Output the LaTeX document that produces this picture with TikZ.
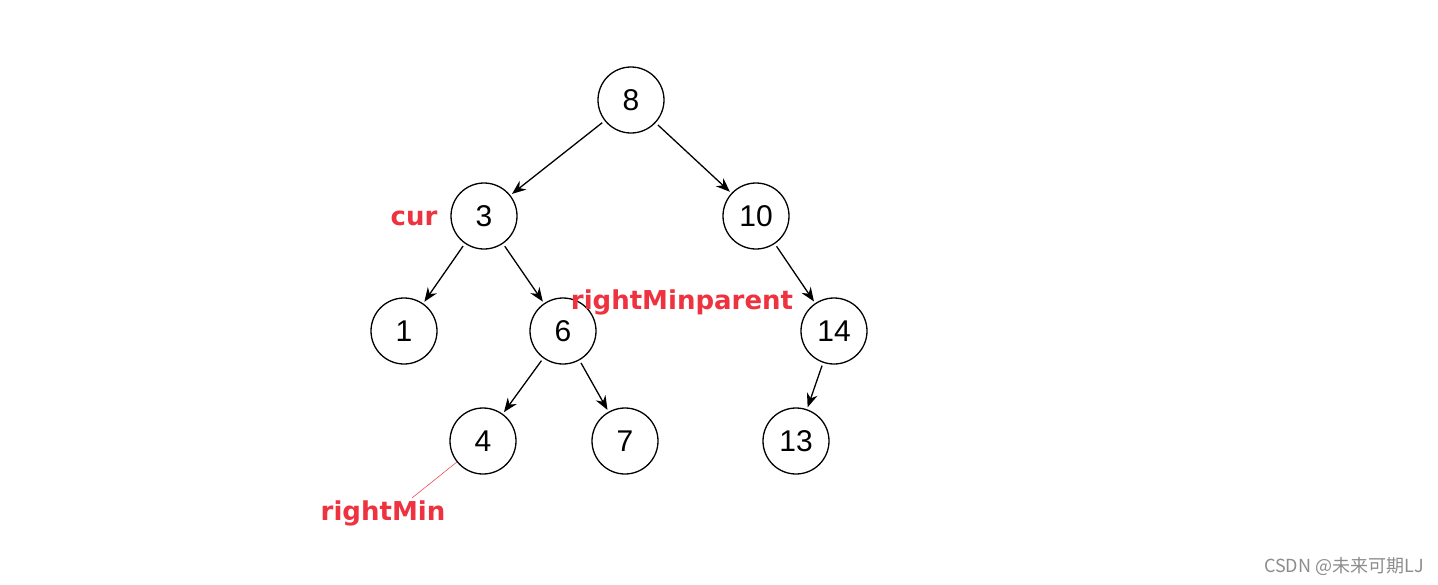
\documentclass[tikz,border=0pt]{standalone}
\usepackage{fontspec}
\setmainfont{Liberation Sans}
\newfontfamily\labelfont{DejaVu Sans}
\newfontfamily\cjkfont{Noto Sans CJK SC}
\usetikzlibrary{arrows.meta,positioning}
\definecolor{markred}{RGB}{238,50,64}
\definecolor{wmgray}{RGB}{140,140,140}

\begin{document}
\begin{tikzpicture}[x=1pt,y=-1pt,
    treenode/.style={circle,draw,line width=1.3pt,minimum size=66pt,inner sep=0pt,font=\fontsize{30}{30}\selectfont},
    child/.style={-{Stealth[length=14pt,width=11pt]},line width=1.3pt,shorten >=2pt,shorten <=3pt},
    redlabel/.style={text=markred,font=\labelfont\bfseries\fontsize{26}{26}\selectfont,inner sep=0pt}]
    \useasboundingbox (0,0) rectangle (1438,584);
    % tree
    \node[treenode] (n8) at (631,100) {8};
    \node[treenode] (n3) at (484,216) {3};
    \node[treenode] (n10) at (756,216) {10};
    \node[treenode] (n1) at (404,331) {1};
    \node[treenode] (n6) at (563,331) {6};
    \node[treenode] (n14) at (834,331) {14};
    \node[treenode] (n4) at (483,441) {4};
    \node[treenode] (n7) at (625,441) {7};
    \node[treenode] (n13) at (796,441) {13};
    \draw[child] (n8) -- (n3);
    \draw[child] (n8) -- (n10);
    \draw[child] (n3) -- (n1);
    \draw[child] (n3) -- (n6);
    \draw[child] (n10) -- (n14);
    \draw[child] (n6) -- (n4);
    \draw[child] (n6) -- (n7);
    \draw[child] (n14) -- (n13);
    % red labels
    \node[redlabel] (cur) at (414,218) {cur};
    \node[redlabel] (rmp) at (682,302) {rightMinparent};
    \node[redlabel] (rm) at (383,513) {rightMin};
    \coordinate (rmtop) at (412,498);
    \draw[markred,line width=0.5pt] (n4) -- (rmtop);
    % watermark
    \node[text=wmgray,font=\cjkfont\fontsize{18}{18}\selectfont,anchor=east,inner sep=0pt] (wm) at (1424,566) {CSDN @未来可期LJ};
\end{tikzpicture}
\end{document}
